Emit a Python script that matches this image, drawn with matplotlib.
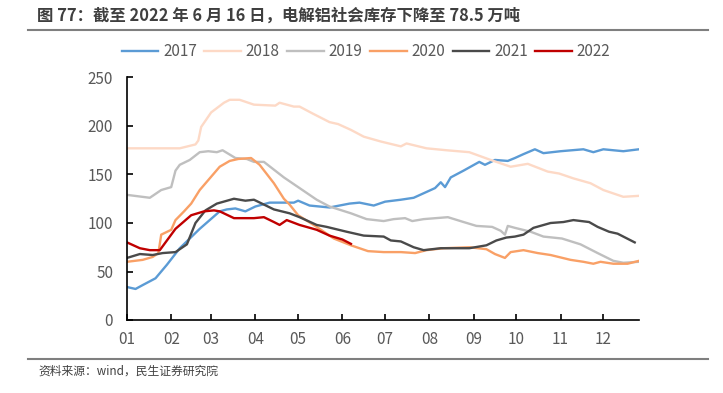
import matplotlib
matplotlib.use('Agg')
import matplotlib.pyplot as plt
from matplotlib.lines import Line2D

plt.rcParams['font.family'] = ['Noto Sans CJK SC', 'DejaVu Sans']

# day of year / 万吨
d17 = [0, 6, 11, 20, 28, 37, 44, 51, 58, 65, 70, 76, 83, 90, 100, 117, 120, 128, 142, 156, 163, 173, 181, 192,
       201, 213, 216, 220, 223, 227, 236, 247, 251, 258, 267, 272, 278, 286, 292, 304, 320, 327, 334, 348, 359]
v17 = [34, 32, 36, 43, 57, 74, 84, 94, 103, 112, 114, 115, 112, 117, 121, 121, 123, 118, 116, 120, 121, 118, 122, 124,
       126, 134, 136, 142, 137, 147, 154, 163, 160, 165, 164, 167, 171, 176, 172, 174, 176, 173, 176, 174, 176]

d18 = [0, 37, 48, 50, 52, 59, 68, 72, 79, 89, 104, 107, 117, 121, 130, 142, 148, 157, 166, 178, 192, 196, 210, 224,
       240, 255, 269, 281, 295, 303, 313, 325, 334, 348, 359]
v18 = [177, 177, 181, 185, 199, 214, 224, 227, 227, 222, 221, 224, 220, 220, 213, 204, 202, 196, 189, 184, 179, 182,
       177, 175, 173, 165, 158, 161, 153, 151, 146, 141, 134, 127, 128]

d19 = [0, 16, 24, 31, 34, 37, 44, 51, 57, 63, 67, 76, 84, 89, 96, 110, 121, 133, 142, 157, 168, 180, 187, 195, 200,
       208, 225, 236, 245, 256, 262, 265, 267, 272, 283, 292, 305, 318, 330, 341, 348, 359]
v19 = [129, 126, 134, 137, 154, 160, 165, 173, 174, 173, 175, 167, 166, 163, 163, 147, 136, 124, 117, 110, 104, 102,
       104, 105, 102, 104, 106, 101, 97, 96, 92, 88, 97, 95, 91, 86, 84, 78, 69, 61, 59, 60]

d20 = [0, 11, 18, 22, 24, 31, 34, 40, 45, 51, 58, 65, 72, 78, 87, 93, 103, 110, 114, 120, 133, 145, 157, 169, 180,
       192, 202, 210, 222, 240, 252, 258, 265, 269, 278, 288, 297, 311, 320, 327, 332, 341, 351, 359]
v20 = [60, 62, 65, 69, 88, 93, 103, 112, 120, 134, 146, 158, 164, 166, 167, 160, 141, 125, 119, 108, 96, 84, 77, 71,
       70, 70, 69, 72, 74, 75, 73, 68, 64, 70, 72, 69, 67, 62, 60, 58, 60, 58, 58, 61]

d21 = [0, 9, 18, 25, 34, 42, 48, 55, 63, 75, 83, 89, 96, 103, 114, 121, 133, 140, 154, 166, 180, 185, 192, 201, 208,
       220, 240, 252, 259, 266, 272, 278, 285, 297, 306, 313, 324, 330, 338, 344, 356]
v21 = [64, 68, 67, 69, 70, 78, 100, 113, 120, 125, 123, 124, 119, 114, 110, 106, 98, 96, 91, 87, 86, 82, 81, 75, 72,
       74, 74, 77, 82, 85, 86, 88, 95, 100, 101, 103, 101, 96, 91, 89, 80]

d22 = [0, 9, 16, 23, 34, 45, 54, 61, 65, 75, 84, 89, 96, 103, 107, 112, 121, 133, 142, 151, 157]
v22 = [80, 74, 72, 72, 94, 108, 112, 113, 112, 105, 105, 105, 106, 101, 98, 103, 98, 93, 87, 83, 78.5]

month_pos = [0, 31, 59, 90, 120, 151, 181, 212, 243, 273, 304, 334]
month_lbl = ['01', '02', '03', '04', '05', '06', '07', '08', '09', '10', '11', '12']

series = [
    ('2017', d17, v17, '#5B9BD5'),
    ('2018', d18, v18, '#FDD9C6'),
    ('2019', d19, v19, '#BFBFBF'),
    ('2020', d20, v20, '#F9A066'),
    ('2021', d21, v21, '#4A4A4A'),
    ('2022', d22, v22, '#C00000'),
]

fig = plt.figure(figsize=(7.23, 3.93), dpi=100)
ax = fig.add_axes([127 / 723, 1 - 320 / 393, 512 / 723, 242.5 / 393])

for name, d, v, c in series:
    ax.plot(d, v, color=c, lw=1.7, label=name)

ax.set_xlim(0, 359)
ax.set_ylim(0, 250)
ax.set_yticks([0, 50, 100, 150, 200, 250])
ax.set_xticks(month_pos, month_lbl)
for s in ['top', 'right']:
    ax.spines[s].set_visible(False)
for s in ['left', 'bottom']:
    ax.spines[s].set_color('black')
    ax.spines[s].set_linewidth(1.2)
ax.tick_params(direction='in', length=4, width=1.2, colors='black', labelcolor='#595959', labelsize=11)
ax.tick_params(axis='x', pad=8)
ax.tick_params(axis='y', pad=10)

fig.legend(loc='center', bbox_to_anchor=(366 / 723, 1 - 52 / 393), ncol=6, frameon=False,
           fontsize=11, labelcolor='#595959', handlelength=2.4, handletextpad=0.3, columnspacing=0.5)

fig.text(37 / 723, 1 - 16 / 393, '图 77：截至 2022 年 6 月 16 日，电解铝社会库存下降至 78.5 万吨',
         fontsize=11.8, fontweight='bold', color='#3F3F3F', va='center', ha='left')
fig.add_artist(Line2D([28 / 723, 708 / 723], [1 - 30 / 393] * 2, color='#7F7F7F', lw=1.5))
fig.add_artist(Line2D([28 / 723, 708 / 723], [1 - 359 / 393] * 2, color='#7F7F7F', lw=1.5))
fig.text(38 / 723, 1 - 371 / 393, '资料来源：wind，民生证券研究院', fontsize=8.5, color='#404040',
         va='center', ha='left')

fig.savefig('out.png', dpi=100)
plt.close(fig)
